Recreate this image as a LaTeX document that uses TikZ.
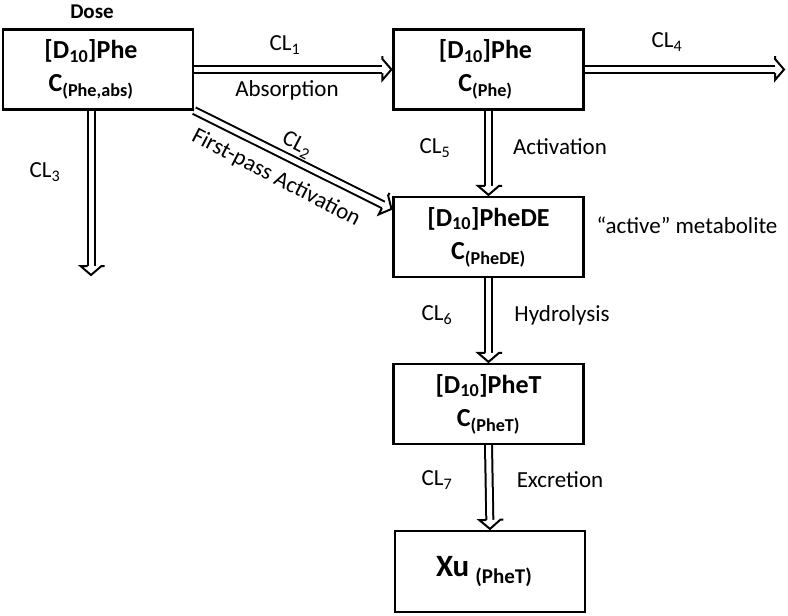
\documentclass[tikz,border=0pt]{standalone}
\usepackage{fontspec}
\setmainfont{Carlito}
\usetikzlibrary{arrows.meta,decorations.markings}
\begin{document}
\begin{tikzpicture}[x=1pt,y=-1pt,
  box/.style={draw, line width=2.2pt, minimum width=190pt, minimum height=80pt, inner sep=0pt, align=center, font=\fontsize{26}{33}\selectfont\bfseries},
  flow/.style={double, line width=2pt, double distance=5pt, shorten >=10pt,
    postaction={decorate, decoration={markings, mark=at position 1 with {
      \draw[line width=2pt, line join=miter, fill=white] (-10,3.5) -- (-10,10.5) -- (-1,0) -- (-10,-10.5) -- (-10,-3.5);}}}},
  lbl/.style={inner sep=0pt, font=\fontsize{23}{27}\selectfont}]
\useasboundingbox (0,0) rectangle (788,616);
% boxes
\node[box] (b1) at (98,69.5) {[D\textsubscript{10}]Phe\hspace*{14pt}\\C\textsubscript{(Phe,abs)}\hspace*{14pt}};
\node[box] (b2) at (488.5,69.5) {[D\textsubscript{10}]Phe\hspace*{6pt}\\C\textsubscript{(Phe)}\hspace*{6pt}};
\node[box] (b3) at (488.5,237) {[D\textsubscript{10}]PheDE\\C\textsubscript{(PheDE)}};
\node[box] (b4) at (488.5,404) {[D\textsubscript{10}]PheT\\C\textsubscript{(PheT)}};
\node[box, minimum height=81pt] (b5) at (490,571.5) {\fontsize{31}{34}\selectfont Xu\hspace{6pt}\raisebox{-7pt}{\fontsize{21}{24}\selectfont (PheT)}\hspace*{12pt}};
% free ends
\coordinate (e3) at (91,276);
\coordinate (e4) at (785,69.5);
% arrows
\draw[flow] (b1.east) -- (b2.west);
\draw[flow] (b2.east) -- (e4);
\draw[flow] (b1.south -| e3) -- (e3);
\draw[flow] (b1.south east) -- (b3.164);
\draw[flow] (b2.south) -- (b3.north);
\draw[flow] (b3.south) -- (b4.north);
\draw[flow] (b4.south) -- (b5.north);
% labels
\node[lbl, font=\fontsize{21}{25}\selectfont\bfseries] (dose) at (92,12) {Dose};
\node[lbl] (cl1) at (285,45) {CL\textsubscript{1}};
\node[lbl] (abs) at (287,90) {Absorption};
\node[lbl] (cl3) at (45,172) {CL\textsubscript{3}};
\node[lbl, rotate=-27.5] (cl2) at (297,145) {CL\textsubscript{2}};
\node[lbl, rotate=-27.5] (fp) at (276,178) {First-pass Activation};
\node[lbl] (cl4) at (667,42) {CL\textsubscript{4}};
\node[lbl] (cl5) at (435,148) {CL\textsubscript{5}};
\node[lbl] (act) at (560,147) {Activation};
\node[lbl] (met) at (687,225) {“active” metabolite};
\node[lbl] (cl6) at (437,315) {CL\textsubscript{6}};
\node[lbl] (hyd) at (562,315) {Hydrolysis};
\node[lbl] (cl7) at (437,480) {CL\textsubscript{7}};
\node[lbl] (exc) at (560,480) {Excretion};
\end{tikzpicture}
\end{document}
